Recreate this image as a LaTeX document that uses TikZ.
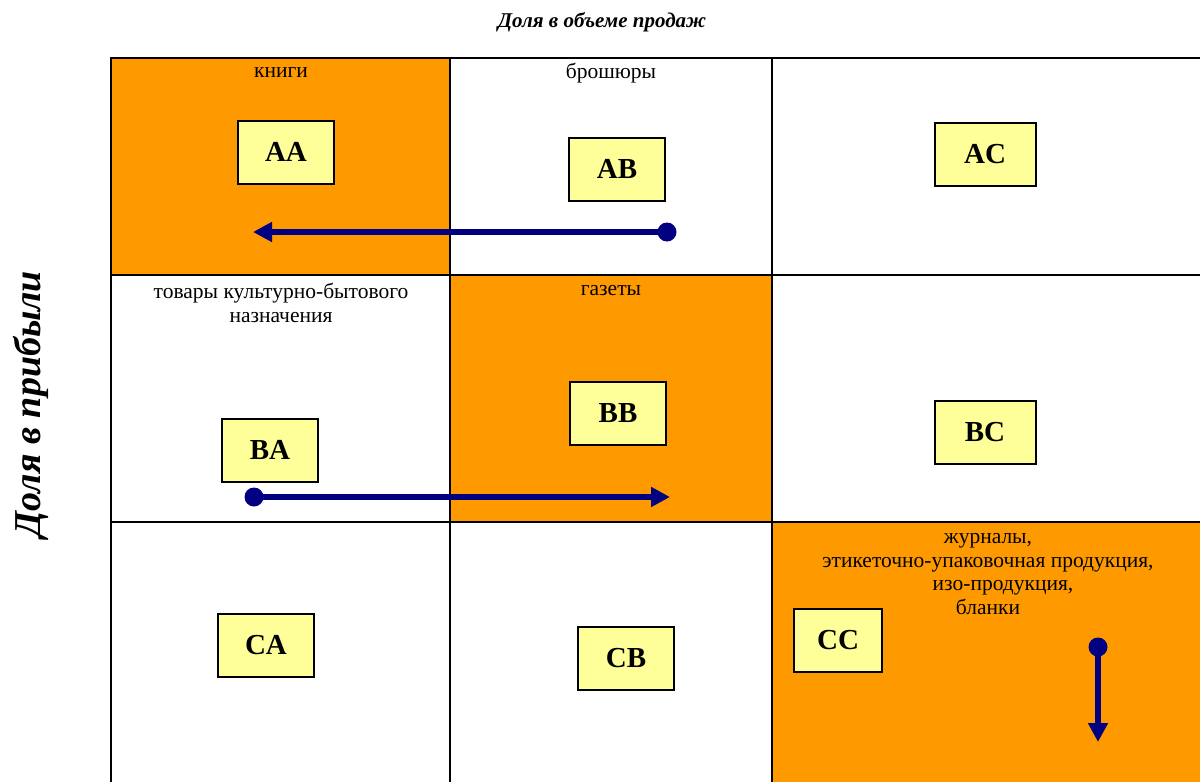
\documentclass[tikz,border=0pt]{standalone}
\usepackage{fontspec}
\setmainfont{Liberation Serif}
\usetikzlibrary{arrows.meta}
\definecolor{cellorange}{HTML}{FF9900}
\definecolor{boxyellow}{HTML}{FFFF99}
\definecolor{arrownavy}{HTML}{000080}
\begin{document}
\begin{tikzpicture}[x=1pt,y=-1pt,
  code/.style={draw=black, line width=2pt, fill=boxyellow, minimum width=96pt,
    minimum height=63pt, inner sep=0pt, font=\fontsize{29}{31}\selectfont\bfseries},
  cat/.style={font=\fontsize{21.5}{23.5}\selectfont, align=center, inner sep=0pt},
  gridline/.style={line width=2.7pt, line cap=rect},
  move/.style={draw=arrownavy, line width=6pt, -{Triangle[length=19pt,width=19pt]}},
  dot/.style={circle, fill=arrownavy, minimum size=19pt, inner sep=0pt}]
\useasboundingbox (0,0) rectangle (1200,782);

% highlighted cells on the diagonal
\fill[cellorange] (111,58) rectangle (450,275);
\fill[cellorange] (450,275) rectangle (772,522);
\fill[cellorange] (772,522) rectangle (1200,782);

% matrix grid
\draw[gridline] (111,782) -- (111,58) -- (1200,58);
\draw[gridline] (111,275) -- (1200,275);
\draw[gridline] (111,522) -- (1200,522);
\draw[gridline] (450,58) -- (450,782);
\draw[gridline] (772,58) -- (772,782);

% axis titles
\node[font=\fontsize{21}{24}\selectfont\bfseries\itshape] (xtitle) at (602,22) {Доля в объеме продаж};
\node[rotate=90, font=\fontsize{38}{42}\selectfont\bfseries\itshape] (ytitle) at (31,404) {Доля в прибыли};

% product groups
\node[cat] (lAA) at (281,73) {книги};
\node[cat] (lAB) at (611,73) {брошюры};
\node[cat] (lBA) at (281,303) {товары культурно-бытового\\назначения};
\node[cat] (lBB) at (611,291) {газеты};
\node[cat] (lCC) at (988,574) {журналы,\\этикеточно-упаковочная продукция,\\\hspace*{30pt}изо-продукция,\\бланки};

% class boxes
\node[code] (AA) at (286,152) {AA};
\node[code] (AB) at (617,169) {AB};
\node[code, minimum width=101pt] (AC) at (985,154) {AC};
\node[code] (BA) at (270,450) {BA};
\node[code] (BB) at (618,413) {BB};
\node[code, minimum width=101pt] (BC) at (985,432) {BC};
\node[code] (CA) at (266,645) {CA};
\node[code] (CB) at (626,658) {CB};
\node[code, minimum width=88pt] (CC) at (838,640) {CC};

% movements between classes
\coordinate (s1) at (667,232);
\coordinate (t1) at (253,232);
\draw[move] (s1) -- (t1);
\node[dot] (d1) at (s1) {};

\coordinate (s2) at (254,497);
\coordinate (t2) at (670,497);
\draw[move] (s2) -- (t2);
\node[dot] (d2) at (s2) {};

\coordinate (s3) at (1098,647);
\coordinate (t3) at (1098,742);
\draw[move] (s3) -- (t3);
\node[dot] (d3) at (s3) {};
\end{tikzpicture}
\end{document}
